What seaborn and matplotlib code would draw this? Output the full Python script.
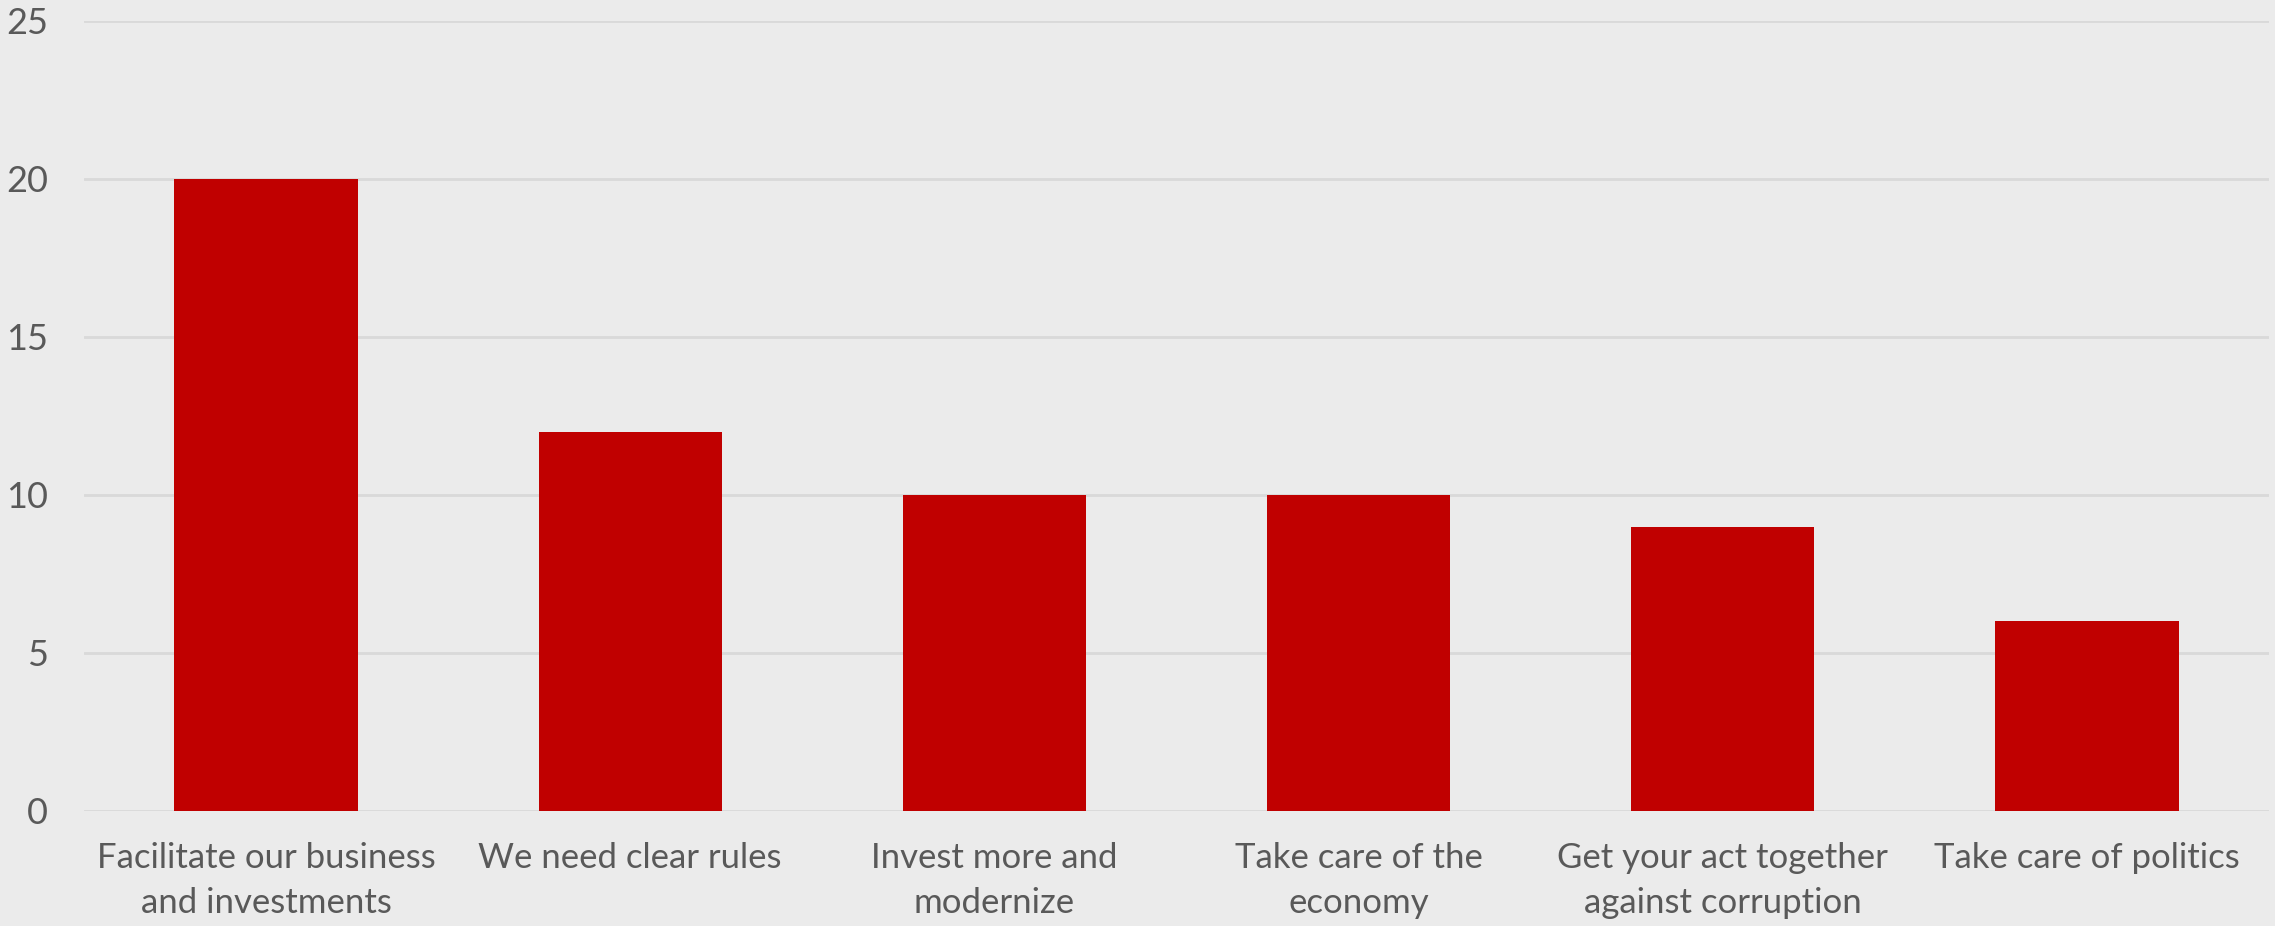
import matplotlib
matplotlib.use("Agg")
import matplotlib.pyplot as plt
import seaborn as sns
import pandas as pd

categories = [
    "Facilitate our business\nand investments",
    "We need clear rules",
    "Invest more and\nmodernize",
    "Take care of the\neconomy",
    "Get your act together\nagainst corruption",
    "Take care of politics",
]
values = [20, 12, 10, 10, 9, 6]
y_ticks = [0, 5, 10, 15, 20, 25]

BG = "#EBEBEB"
GRID = "#D9D9D9"
BAR = "#C00000"
TEXT = "#595959"

sns.set_theme(style="whitegrid")
plt.rcParams["font.family"] = ["Lato", "DejaVu Sans"]

df = pd.DataFrame({"category": categories, "value": values})

fig = plt.figure(figsize=(22.75, 9.26), dpi=100, facecolor=BG)
ax = fig.add_axes([84 / 2275, 1 - 811 / 926, (2269 - 84) / 2275, 790 / 926])
ax.set_facecolor(BG)

sns.barplot(data=df, x="category", y="value", color=BAR, width=0.503,
            saturation=1, ax=ax, edgecolor="none")

ax.set_ylim(0, 25)
ax.set_xlim(-0.5, len(categories) - 0.5)
ax.set_yticks(y_ticks)
ax.set_xlabel("")
ax.set_ylabel("")
ax.grid(axis="y", color=GRID, linewidth=2)
ax.grid(axis="x", visible=False)
ax.set_axisbelow(True)
for s in ax.spines.values():
    s.set_visible(False)
ax.tick_params(axis="y", length=0, pad=26, labelsize=26, labelcolor=TEXT)
ax.tick_params(axis="x", length=0, pad=22, labelsize=25, labelcolor=TEXT)
for lbl in ax.get_xticklabels():
    lbl.set_linespacing(1.52)
    lbl.set_va("top")

fig.savefig("out.png", dpi=100, facecolor=BG)
